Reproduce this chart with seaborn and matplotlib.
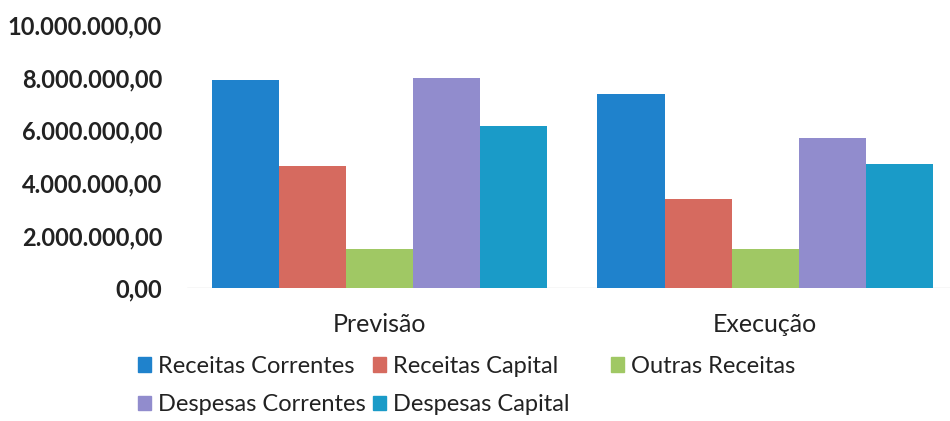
import matplotlib
matplotlib.use("Agg")
import matplotlib.pyplot as plt
import seaborn as sns
import pandas as pd
from matplotlib.ticker import FuncFormatter
from matplotlib.patches import Patch

# Data
categories = ["Previsão", "Execução"]
series = ["Receitas Correntes", "Receitas Capital", "Outras Receitas",
          "Despesas Correntes", "Despesas Capital"]
receitas_correntes = [7900000, 7400000]
receitas_capital = [4650000, 3380000]
outras_receitas = [1480000, 1480000]
despesas_correntes = [7980000, 5700000]
despesas_capital = [6160000, 4710000]
colors = ["#1F82CC", "#D66A5F", "#A0C864", "#918CCD", "#1A9BC8"]

values = [receitas_correntes, receitas_capital, outras_receitas,
          despesas_correntes, despesas_capital]
rows = []
for name, vals in zip(series, values):
    for cat, v in zip(categories, vals):
        rows.append({"Categoria": cat, "Série": name, "Valor": v})
df = pd.DataFrame(rows)

sns.set_style("white")
plt.rcParams["font.family"] = ["Lato", "DejaVu Sans"]
txt = "#222222"

fig = plt.figure(figsize=(9.5, 4.21), dpi=100)
ax = fig.add_axes([0.197, 0.316, 0.803, 0.624])

sns.barplot(data=df, x="Categoria", y="Valor", hue="Série", order=categories,
            hue_order=series, palette=colors, width=0.87, gap=0,
            saturation=1, linewidth=0, ax=ax, legend=False)

ax.set_ylim(0, 10000000)
ax.set_xlim(-0.5, 1.48)
ax.set_yticks(range(0, 10000001, 2000000))


def fmt(v, pos):
    s = f"{v:,.2f}"
    return s.replace(",", "X").replace(".", ",").replace("X", ".")


ax.yaxis.set_major_formatter(FuncFormatter(fmt))
for lab in ax.get_yticklabels():
    lab.set_fontweight("bold")
ax.tick_params(axis="y", labelsize=17, length=0, pad=18, colors=txt)
ax.tick_params(axis="x", labelsize=18, length=0, pad=18, colors=txt)
ax.set_xlabel("")
ax.set_ylabel("")
for s in ax.spines.values():
    s.set_visible(False)
ax.axhline(0, color="#d9d9d9", lw=1, zorder=0)

handles = [Patch(color=c, label=n) for c, n in zip(colors, series)]
leg_kw = dict(loc="upper left", frameon=False, fontsize=17,
              handlelength=0.55, handleheight=0.55, handletextpad=0.3,
              columnspacing=0.3, labelspacing=0.75, borderaxespad=0,
              borderpad=0, labelcolor=txt)
order = [0, 3, 1, 4]
fig.legend([handles[i] for i in order], [series[i] for i in order],
           bbox_to_anchor=(0.145, 0.155), ncol=2, **leg_kw)
fig.legend([handles[2]], [series[2]], bbox_to_anchor=(0.643, 0.155),
           ncol=1, **leg_kw)

fig.savefig("out.png", dpi=100)
